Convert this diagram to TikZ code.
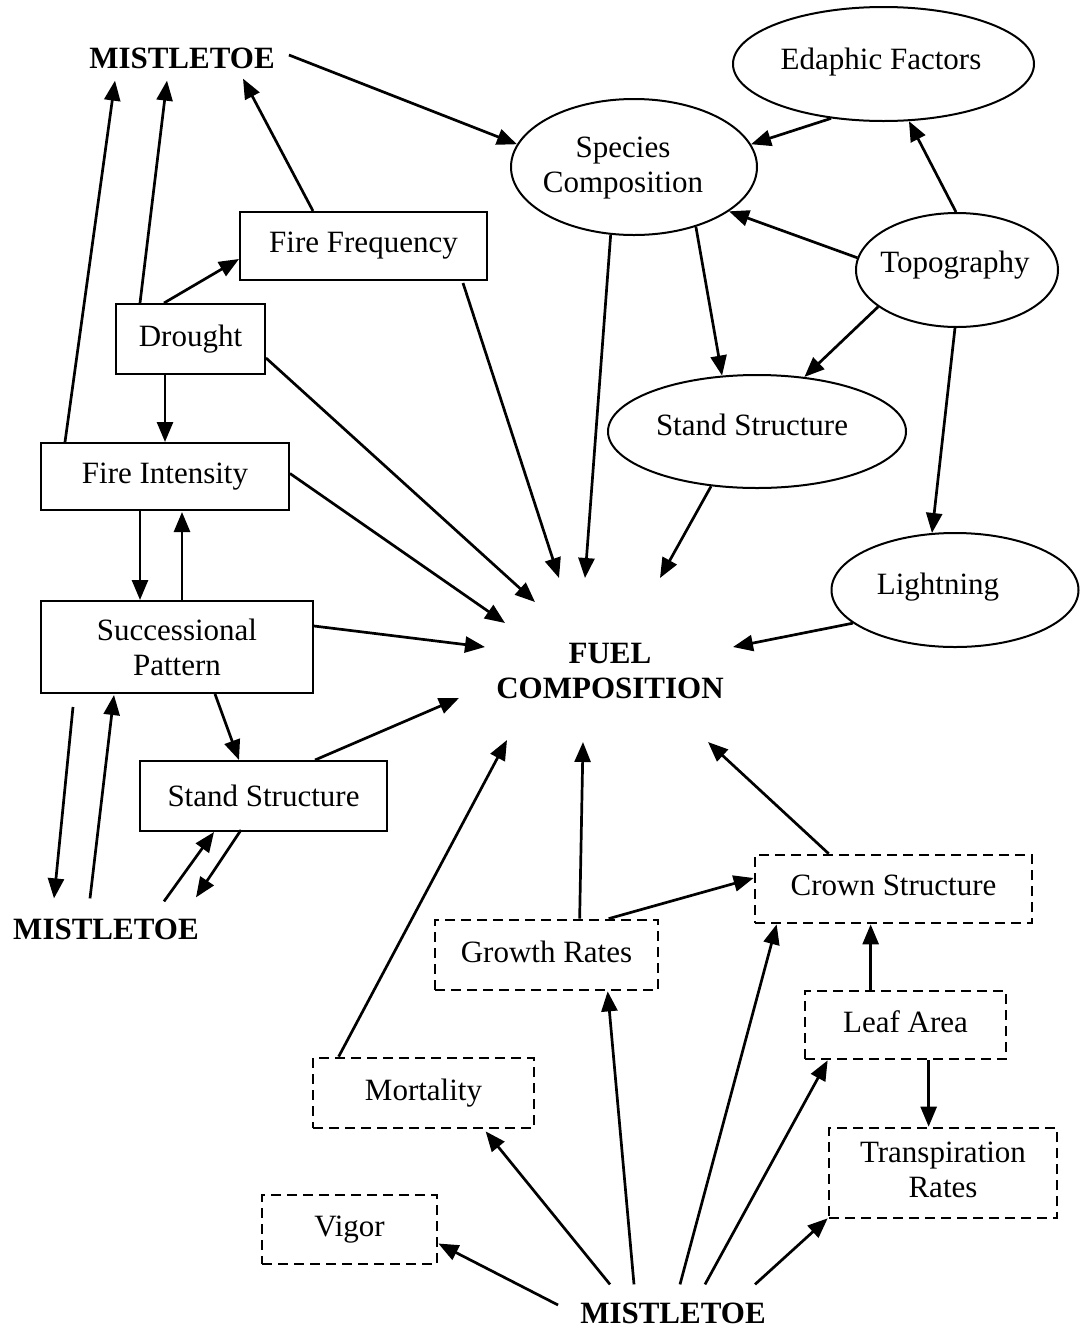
\documentclass[tikz,border=0pt]{standalone}
\usepackage{fontspec}
\setmainfont{Liberation Serif}
\usetikzlibrary{arrows.meta,shapes.geometric,calc}
\begin{document}
\begin{tikzpicture}[x=1pt,y=-1pt,
  lbl/.style={font=\fontsize{31}{35}\selectfont, align=center, inner sep=0pt},
  bx/.style={lbl, draw, line width=2pt, rectangle},
  dbx/.style={lbl, draw, rectangle, line width=2.7pt, dash pattern=on 10pt off 6pt, text depth=7pt},
  ell/.style={draw, ellipse, line width=2pt, inner sep=0pt},
  boldlbl/.style={lbl, font=\fontsize{31}{35}\selectfont\bfseries},
  arr/.style={-{Triangle[length=20pt,width=16pt]}, line width=2.7pt}]
\useasboundingbox (0,0) rectangle (1083,1331);

% text-only nodes
\node[boldlbl] (mt) at (182,58) {MISTLETOE};
\node[boldlbl] (ml) at (106,929) {MISTLETOE};
\node[boldlbl] (mb) at (673,1313) {MISTLETOE};
\node[boldlbl] (fuel) at (610,671) {FUEL\\COMPOSITION};

% ellipses
\node[ell, minimum width=301pt, minimum height=114pt] (ef) at (883.5,64) {};
\node[lbl, anchor=base] at (881,69) {Edaphic Factors};
\node[ell, minimum width=246pt, minimum height=136pt] (sc) at (634,167) {};
\node[lbl] at (623,168) {Species\\Composition};
\node[ell, minimum width=202pt, minimum height=114pt] (tp) at (957,270) {};
\node[lbl, anchor=base] at (955,272) {Topography};
\node[ell, minimum width=298pt, minimum height=113pt] (ss) at (757,431.5) {};
\node[lbl, anchor=base] at (752,435) {Stand Structure};
\node[ell, minimum width=247pt, minimum height=114pt] (lt) at (955,590) {};
\node[lbl, anchor=base] at (938,594) {Lightning};

% solid boxes
\node[bx, minimum width=247pt, minimum height=68pt] (ffq) at (363.5,246) {Fire Frequency};
\node[bx, minimum width=149pt, minimum height=70pt] (dr) at (190.5,339) {Drought};
\node[bx, minimum width=248pt, minimum height=67pt] (fi) at (165,476.5) {Fire Intensity};
\node[bx, minimum width=272pt, minimum height=92pt] (sp) at (177,647) {Successional\\Pattern};
\node[bx, minimum width=247pt, minimum height=70pt] (sb) at (263.5,796) {Stand Structure};

% dashed boxes
\node[dbx, minimum width=223pt, minimum height=70pt] (gr) at (546.5,955) {Growth Rates};
\node[dbx, minimum width=277pt, minimum height=68pt] (cs) at (893.5,889) {Crown Structure};
\node[dbx, minimum width=201pt, minimum height=68pt] (la) at (905.5,1025) {Leaf Area};
\node[dbx, minimum width=221pt, minimum height=70pt] (mo) at (423.5,1093) {Mortality};
\node[dbx, minimum width=228pt, minimum height=90pt] (tr) at (943,1173) {Transpiration\\Rates};
\node[dbx, minimum width=175pt, minimum height=69pt] (vi) at (349.5,1229.5) {Vigor};

% connectors, upper left
\draw[arr] ($(mt.east)+(14,-3)$) -- (sc.169);
\draw[arr] ($(fi.north west)+(25,0)$) -- ($(mt.south)+(-67,12)$);
\draw[arr] ($(dr.north west)+(25,0)$) -- ($(mt.south)+(-15,12)$);
\draw[arr] ($(ffq.north west)+(74,0)$) -- ($(mt.south)+(61,10)$);
\draw[arr] ($(dr.north west)+(49,0)$) -- ($(ffq.west)+(0,13)$);
\draw[arr] ($(dr.south west)+(50,0)$) -- ($(fi.north west)+(125,0)$);
\draw[arr] ($(ffq.south east)+(-25,2)$) -- ($(fuel.center)+(-51,-93)$);
\draw[arr] ($(dr.east)+(0,19)$) -- ($(fuel.center)+(-75,-69)$);
\draw[arr] ($(fi.east)+(0,-3)$) -- ($(fuel.center)+(-105,-48)$);
\draw[arr] ($(fi.south west)+(100,0)$) -- ($(sp.north west)+(100,0)$);
\draw[arr] ($(sp.north west)+(142,0)$) -- ($(fi.south west)+(142,1)$);
\draw[arr] ($(sp.east)+(0,-21)$) -- ($(fuel.center)+(-125,-24)$);
\draw[arr] ($(sp.south west)+(175,0)$) -- ($(sb.north west)+(100,0)$);
\draw[arr] ($(sb.north west)+(176,0)$) -- ($(fuel.center)+(-151,27)$);
\draw[arr] ($(sp.south west)+(33,13)$) -- ($(ml.north)+(-52,-20)$);
\draw[arr] ($(ml.north)+(-16,-20)$) -- ($(sp.south west)+(74,1)$);
\draw[arr] ($(ml.north)+(58,-17)$) -- ($(sb.south west)+(75,0)$);
\draw[arr] ($(sb.south west)+(102,-2)$) -- ($(ml.north)+(90,-21)$);

% connectors, upper right
\draw[arr] (sc.251) -- ($(fuel.center)+(-25,-93)$);
\draw[arr] (sc.316) -- (ss.122);
\draw[arr] (ef.226) -- (sc.11);
\draw[arr] (tp.91) -- (ef.294);
\draw[arr] (tp.173) -- (sc.335);
\draw[arr] (tp.205) -- (ss.49);
\draw[arr] (tp.268) -- (lt.112);
\draw[arr] (ss.230) -- ($(fuel.center)+(50,-93)$);
\draw[arr] (lt.198) -- ($(fuel.center)+(123,-24)$);

% connectors, bottom
\draw[arr] ($(mo.north west)+(27,0)$) -- ($(fuel.center)+(-103,69)$);
\draw[arr] ($(gr.north west)+(146,0)$) -- ($(fuel.center)+(-27,71)$);
\draw[arr] ($(gr.north west)+(175,0)$) -- ($(cs.west)+(0,-11)$);
\draw[arr] ($(cs.north west)+(75,0)$) -- ($(fuel.center)+(98,71)$);
\draw[arr] ($(la.north west)+(67,0)$) -- ($(cs.south west)+(117,0)$);
\draw[arr] ($(la.south west)+(125,0)$) -- ($(tr.north west)+(101,0)$);
\draw[arr] ($(mb.west)+(-22,-8)$) -- ($(vi.east)+(0,14)$);
\draw[arr] ($(mb.north)+(-63,-18)$) -- ($(mo.south west)+(174,2)$);
\draw[arr] ($(mb.north)+(-39,-18)$) -- ($(gr.south west)+(174,0)$);
\draw[arr] ($(mb.north)+(7,-18)$) -- ($(cs.south west)+(23,0)$);
\draw[arr] ($(mb.north)+(32,-18)$) -- ($(la.south west)+(24,0)$);
\draw[arr] ($(mb.north)+(82,-18)$) -- ($(tr.south west)+(0,-1)$);
\end{tikzpicture}
\end{document}
